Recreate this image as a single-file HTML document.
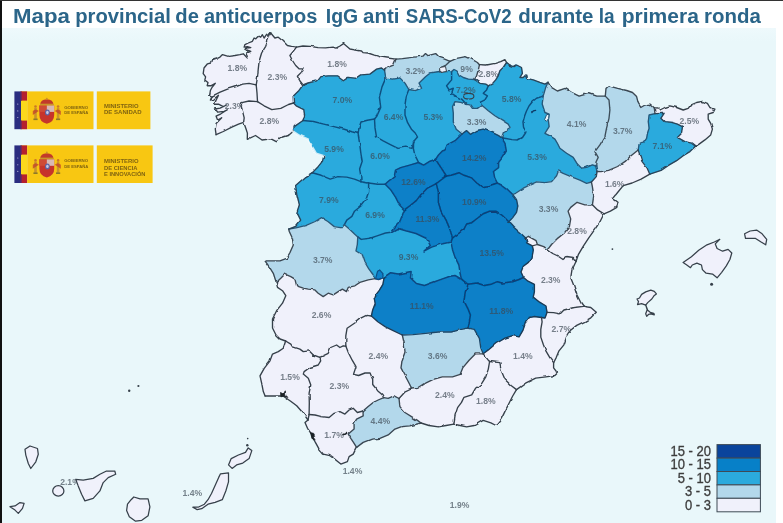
<!DOCTYPE html>
<html><head><meta charset="utf-8">
<style>
html,body{margin:0;padding:0;}
body{width:783px;height:523px;overflow:hidden;background:#fff;font-family:"Liberation Sans",sans-serif;position:relative;}
#bg{position:absolute;left:0;top:27.5px;width:775.5px;height:496px;background:linear-gradient(#eef9fc 0px,#e9f7fa 14px);}
#lbar{position:absolute;left:0;top:0;width:2px;height:523px;background:#111;}
#tbar{position:absolute;left:0;top:0;width:783px;height:1px;background:#333;}
#title{position:absolute;left:13px;top:4.1px;white-space:nowrap;font-weight:bold;font-size:20.7px;color:#2b6589;transform-origin:0 0;transform:scaleX(0.98);}
svg{position:absolute;left:0;top:0;filter:blur(0.45px);}
svg text{font-family:"Liberation Sans",sans-serif;font-size:8.6px;fill:#3c4854;fill-opacity:0.68;text-anchor:middle;font-weight:bold;}
svg text.tt{font-size:20.7px;fill:#2b6589;fill-opacity:1;text-anchor:start;font-weight:bold;}
svg text.lt{font-size:4.2px;fill:#6b5210;fill-opacity:0.85;text-anchor:start;font-weight:bold;}
svg text.lt2{font-size:5.6px;fill:#6b5210;fill-opacity:0.85;text-anchor:start;font-weight:bold;}
.lg{position:absolute;right:72px;font-size:13px;line-height:13px;color:#3d3d3d;-webkit-text-stroke:0.3px #3d3d3d;white-space:nowrap;transform:scaleY(1.13);transform-origin:100% 0;filter:blur(0.4px);}
</style></head><body>
<div id="bg"></div>
<svg width="783" height="523" viewBox="0 0 783 523">
<defs><filter id="wob" x="0" y="0" width="783" height="523" filterUnits="userSpaceOnUse"><feTurbulence type="fractalNoise" baseFrequency="0.11" numOctaves="2" seed="7" result="n"/><feDisplacementMap in="SourceGraphic" in2="n" scale="2.6" xChannelSelector="R" yChannelSelector="G"/></filter></defs>
<g filter="url(#wob)">
<polygon points="270.7,33.0 268.2,35.5 266.6,34.3 264.1,38.0 262.4,34.7 260.7,37.2 258.2,36.3 255.8,38.8 254.1,38.0 252.4,41.3 248.3,43.0 244.9,44.6 244.1,47.1 247.4,46.6 250.8,47.6 247.0,48.2 244.9,49.3 248.3,50.5 250.8,51.3 246.6,53.0 248.3,56.3 247.4,58.0 243.3,53.8 239.9,54.6 234.9,55.5 228.3,56.3 222.5,54.6 220.0,57.1 216.6,58.8 211.6,60.5 210.8,63.0 207.5,63.8 204.0,68.0 203.2,73.7 205.6,76.9 204.8,80.1 208.0,82.5 207.2,85.7 211.3,85.7 215.3,83.3 212.1,87.3 210.4,90.5 209.6,95.3 212.1,96.1 220.1,92.1 228.1,88.9 236.1,86.5 242.6,84.1 249.0,83.3 256.2,84.9 257.4,77.9 258.2,69.6 259.1,61.3 261.6,53.0 265.7,46.3 268.2,39.7 270.7,33.0" fill="#f0f1fb" stroke="#f0f1fb" stroke-width="0.6"/>
<polygon points="256.2,84.9 257.4,77.9 258.2,69.6 259.1,61.3 261.6,53.0 265.7,46.3 268.2,39.7 270.7,33.0 274.9,38.0 278.2,37.2 283.2,41.3 287.4,45.5 291.5,46.3 296.5,47.1 293.2,51.3 289.9,55.5 292.4,60.5 295.7,65.5 299.0,68.8 303.2,68.8 301.5,72.1 297.4,76.3 300.0,81.0 303.0,85.0 299.0,90.4 293.2,96.2 293.5,103.0 288.5,104.5 280.8,108.3 271.8,109.6 264.1,105.8 257.5,101.6 257.0,93.0 256.2,84.9" fill="#f0f1fb" stroke="#f0f1fb" stroke-width="0.6"/>
<polygon points="212.1,96.1 220.1,92.1 228.1,88.9 236.1,86.5 242.6,84.1 249.0,83.3 256.2,84.9 257.0,93.0 257.5,101.6 249.0,101.0 241.8,102.6 241.0,105.8 242.6,111.4 244.2,117.8 243.6,122.3 238.5,124.2 231.3,127.4 223.3,131.5 216.1,134.7 215.3,129.0 216.1,123.4 221.7,117.8 217.7,120.2 216.1,116.2 220.9,113.8 227.3,109.8 224.1,111.4 217.7,112.2 215.3,109.0 220.1,108.2 226.5,105.0 223.3,106.6 218.5,104.2 214.5,104.2 216.1,100.1 218.5,95.3 213.7,99.3 210.4,100.1 212.1,96.1" fill="#f0f1fb" stroke="#f0f1fb" stroke-width="0.6"/>
<polygon points="293.5,103.0 288.5,104.5 280.8,108.3 271.8,109.6 264.1,105.8 257.5,101.6 249.0,101.0 241.8,102.6 241.0,105.8 242.6,111.4 244.2,117.8 243.6,122.3 245.8,128.2 247.4,133.1 247.3,139.3 255.5,135.5 262.0,140.0 271.0,138.8 276.3,141.7 282.5,137.0 289.0,135.0 293.0,131.5 294.3,126.6 303.0,120.5 304.6,115.1 303.8,109.6 296.2,105.8 293.5,103.0" fill="#f0f1fb" stroke="#f0f1fb" stroke-width="0.6"/>
<polygon points="296.5,47.1 293.2,51.3 289.9,55.5 292.4,60.5 295.7,65.5 299.0,68.8 303.2,68.8 301.5,72.1 297.4,76.3 300.0,81.0 303.0,85.0 308.0,83.0 316.6,80.8 320.0,76.6 328.3,75.8 336.6,75.8 343.3,80.8 348.3,77.4 356.6,78.3 361.6,74.9 369.9,74.1 376.6,69.1 381.5,68.0 384.5,70.3 387.1,67.7 393.5,65.1 396.0,59.2 387.1,58.0 381.0,57.2 374.3,55.2 368.0,53.0 363.0,52.6 361.5,51.0 356.0,50.2 349.9,49.0 347.0,46.5 343.5,43.6 340.0,46.0 336.0,48.2 332.0,47.2 325.6,47.8 318.0,47.6 310.2,46.4 303.0,46.0 296.5,47.1" fill="#f0f1fb" stroke="#f0f1fb" stroke-width="0.6"/>
<polygon points="396.0,59.2 393.5,65.1 387.1,67.7 384.5,70.3 385.8,77.9 392.2,79.2 399.9,77.9 405.0,83.1 408.8,89.5 415.2,90.7 421.6,88.2 419.1,83.1 425.5,76.7 430.6,72.8 439.6,71.5 440.8,67.7 446.0,65.1 450.0,61.3 443.4,58.7 439.6,57.4 435.7,53.6 428.0,55.7 425.5,53.6 422.9,56.2 412.7,57.4 402.4,58.7 396.0,59.2" fill="#b3d8eb" stroke="#b3d8eb" stroke-width="0.6"/>
<polygon points="450.0,61.3 446.0,65.1 440.8,67.7 439.6,71.5 446.0,71.5 451.6,71.6 454.0,69.5 457.0,71.0 459.1,75.0 463.3,77.5 468.3,79.1 474.5,79.5 476.6,75.8 478.3,70.0 479.5,64.7 477.4,62.5 471.6,59.1 465.8,56.6 456.6,58.3 450.0,61.3" fill="#b3d8eb" stroke="#b3d8eb" stroke-width="0.6"/>
<polygon points="479.5,64.7 478.3,70.0 476.6,75.8 474.5,79.5 479.9,83.3 485.8,84.1 488.3,85.8 492.4,83.6 495.7,79.9 498.2,75.8 499.9,70.8 503.2,67.5 506.6,62.5 504.9,59.6 500.7,61.6 494.9,63.3 486.6,65.0 479.5,64.7" fill="#f0f1fb" stroke="#f0f1fb" stroke-width="0.6"/>
<polygon points="474.5,79.5 468.3,79.1 463.3,77.5 459.1,75.0 457.0,71.0 454.0,69.5 451.6,71.6 451.6,79.9 446.6,85.8 449.1,89.9 453.3,88.3 451.6,93.3 456.6,96.6 461.6,99.1 466.5,104.3 469.9,104.9 472.4,108.4 477.4,108.4 481.6,105.2 479.9,102.4 484.9,99.9 487.4,95.8 483.3,93.3 486.6,89.9 488.3,85.8 485.8,84.1 479.9,83.3 474.5,79.5" fill="#2baadd" stroke="#2baadd" stroke-width="0.6"/>
<polygon points="481.6,105.2 479.9,102.4 484.9,99.9 487.4,95.8 483.3,93.3 486.6,89.9 488.3,85.8 492.4,83.6 495.7,79.9 498.2,75.8 499.9,70.8 503.2,67.5 506.6,62.5 509.9,65.0 514.1,66.6 516.6,65.0 521.5,67.5 522.4,73.3 519.9,77.5 523.2,77.5 525.7,75.0 526.5,78.3 533.2,79.9 539.9,82.4 544.9,84.1 548.0,82.3 545.7,87.4 544.0,93.3 543.2,95.8 541.5,96.6 536.5,98.3 532.5,101.5 529.0,106.0 526.5,111.0 524.6,116.0 523.0,122.0 523.5,127.0 525.8,132.5 522.5,137.5 518.0,140.0 512.0,139.6 506.0,138.5 501.5,137.7 503.7,131.8 510.1,127.5 508.2,124.1 501.6,119.9 494.9,115.7 488.3,110.7 483.3,106.6 481.6,105.2" fill="#2baadd" stroke="#2baadd" stroke-width="0.6"/>
<polygon points="466.5,104.3 469.9,104.9 472.4,108.4 477.4,108.4 481.6,105.2 483.3,106.6 488.3,110.7 494.9,115.7 501.6,119.9 508.2,124.1 510.1,127.5 503.7,131.8 501.5,137.7 498.6,135.6 490.9,131.8 483.2,129.2 476.8,130.5 470.4,134.3 466.5,130.6 462.0,134.0 456.2,129.2 453.3,122.0 453.3,113.2 452.5,106.6 455.0,101.6 460.8,102.4 466.5,104.3" fill="#b3d8eb" stroke="#b3d8eb" stroke-width="0.6"/>
<polygon points="548.0,82.3 545.7,87.4 544.0,93.3 543.2,95.8 542.2,104.0 544.9,112.5 549.1,114.1 548.3,120.0 549.1,126.6 544.9,133.3 549.9,135.8 554.9,139.1 557.5,143.5 559.9,148.3 566.6,153.3 573.2,157.4 577.4,164.1 581.6,168.2 586.6,167.4 592.4,164.9 595.7,166.0 596.0,162.0 598.2,157.4 594.9,151.6 599.9,144.9 604.9,136.6 606.5,128.3 609.0,118.3 609.9,110.0 609.0,100.0 605.3,96.1 595.8,96.1 588.1,93.5 579.1,96.1 571.5,92.3 565.1,88.4 557.4,91.0 551.0,87.1 548.0,82.3" fill="#b3d8eb" stroke="#b3d8eb" stroke-width="0.6"/>
<polygon points="597.0,171.5 600.9,171.6 608.6,170.4 617.6,166.5 625.2,161.4 630.4,156.3 638.2,150.0 639.1,144.1 643.3,143.2 646.6,138.3 647.5,133.3 649.1,128.3 648.3,121.6 649.1,115.0 655.0,113.6 654.3,107.8 650.0,104.1 645.0,105.0 640.8,107.5 638.3,103.3 636.6,96.6 632.5,92.5 626.7,90.5 617.6,88.4 608.6,85.9 606.0,88.4 605.3,96.1 609.0,100.0 609.9,110.0 609.0,118.3 606.5,128.3 604.9,136.6 599.9,144.9 594.9,151.6 598.2,157.4 596.0,162.0 595.7,166.0 597.0,171.5" fill="#b3d8eb" stroke="#b3d8eb" stroke-width="0.6"/>
<polygon points="655.0,113.6 664.1,113.3 660.8,118.3 664.1,121.6 671.6,122.4 677.4,124.1 682.4,126.6 681.6,133.3 677.4,137.4 684.9,141.6 691.6,143.2 695.5,146.3 699.1,144.1 704.9,139.9 710.7,134.9 712.4,129.1 710.7,123.3 708.2,119.1 708.2,114.1 713.2,112.5 714.9,109.1 709.9,107.5 707.4,103.3 702.4,101.3 696.6,102.5 690.7,105.0 688.2,108.3 683.2,110.0 676.6,107.5 669.9,105.8 664.9,107.5 660.0,110.0 658.0,108.0 654.3,107.8 655.0,113.6" fill="#f0f1fb" stroke="#f0f1fb" stroke-width="0.6"/>
<polygon points="638.2,150.0 641.9,161.4 647.0,167.8 649.8,174.2 661.1,170.4 668.8,165.2 676.6,160.7 683.2,155.7 689.9,151.6 695.5,146.3 691.6,143.2 684.9,141.6 677.4,137.4 681.6,133.3 682.4,126.6 677.4,124.1 671.6,122.4 664.1,121.6 660.8,118.3 664.1,113.3 655.0,113.6 649.1,115.0 648.3,121.6 649.1,128.3 647.5,133.3 646.6,138.3 643.3,143.2 639.1,144.1 638.2,150.0" fill="#2baadd" stroke="#2baadd" stroke-width="0.6"/>
<polygon points="592.4,204.8 597.6,209.9 604.0,213.8 610.4,211.2 616.8,207.4 618.0,202.3 612.9,198.4 618.0,192.0 623.2,185.6 632.1,183.0 641.1,179.2 649.8,174.2 647.0,167.8 641.9,161.4 638.2,150.0 630.4,156.3 625.2,161.4 617.6,166.5 608.6,170.4 600.9,171.6 597.0,171.5 596.3,176.6 591.4,182.0 592.4,186.9 593.7,195.8 592.4,204.8" fill="#f0f1fb" stroke="#f0f1fb" stroke-width="0.6"/>
<polygon points="543.2,95.8 541.5,96.6 536.5,98.3 532.5,101.5 529.0,106.0 526.5,111.0 524.6,116.0 523.0,122.0 523.5,127.0 525.8,132.5 522.5,137.5 518.0,140.0 512.0,139.6 506.0,138.5 501.5,137.7 505.0,143.3 506.3,151.0 502.4,157.4 498.6,162.5 498.6,167.6 493.5,171.5 494.7,177.9 497.3,183.0 502.4,185.5 507.6,189.4 512.7,194.5 515.6,193.3 523.3,188.2 529.9,184.9 536.6,181.8 544.9,182.6 551.6,181.6 556.6,175.7 558.4,170.9 563.2,173.4 571.6,176.8 579.9,180.2 586.6,183.4 591.4,182.0 596.3,176.6 597.0,171.5 595.7,166.0 592.4,164.9 586.6,167.4 581.6,168.2 577.4,164.1 573.2,157.4 566.6,153.3 559.9,148.3 557.5,143.5 554.9,139.1 549.9,135.8 544.9,133.3 549.1,126.6 548.3,120.0 549.1,114.1 544.9,112.5 542.2,104.0 543.2,95.8" fill="#2baadd" stroke="#2baadd" stroke-width="0.6"/>
<polygon points="512.7,194.5 516.5,199.6 517.8,206.0 516.5,212.4 512.7,217.6 508.8,221.8 514.0,227.5 520.4,233.0 525.7,238.0 528.4,236.3 536.1,240.7 537.4,244.5 543.8,246.6 547.6,249.6 551.5,244.5 557.9,238.1 564.3,233.0 569.4,226.6 570.7,218.9 568.1,211.2 570.7,207.4 577.1,202.3 584.8,204.8 592.4,204.8 593.7,195.8 592.4,186.9 591.4,182.0 586.6,183.4 579.9,180.2 571.6,176.8 563.2,173.4 558.4,170.9 556.6,175.7 551.6,181.6 544.9,182.6 536.6,181.8 529.9,184.9 523.3,188.2 515.6,193.3 512.7,194.5" fill="#b3d8eb" stroke="#b3d8eb" stroke-width="0.6"/>
<polygon points="547.6,249.6 552.7,253.5 557.9,256.0 563.0,259.5 566.8,256.5 573.2,257.3 576.0,261.5 578.3,254.7 583.5,245.8 588.6,238.1 595.0,229.1 600.1,221.5 604.0,213.8 597.6,209.9 592.4,204.8 584.8,204.8 577.1,202.3 570.7,207.4 568.1,211.2 570.7,218.9 569.4,226.6 564.3,233.0 557.9,238.1 551.5,244.5 547.6,249.6" fill="#f0f1fb" stroke="#f0f1fb" stroke-width="0.6"/>
<polygon points="523.5,277.5 528.0,281.2 534.4,284.3 534.4,291.9 533.2,297.1 539.6,302.2 546.0,306.0 547.0,312.4 553.6,312.6 560.0,313.9 563.9,310.0 574.1,307.5 583.5,306.3 581.0,303.0 576.7,294.5 573.6,285.0 570.7,277.8 571.9,270.1 576.0,261.5 573.2,257.3 566.8,256.5 563.0,259.5 557.9,256.0 552.7,253.5 547.6,249.6 543.8,246.6 537.4,244.5 536.1,240.7 528.4,236.3 525.7,238.0 527.1,243.2 532.3,245.8 533.3,250.0 532.0,257.3 528.4,262.4 523.3,266.3 521.0,272.0 523.5,277.5" fill="#f0f1fb" stroke="#f0f1fb" stroke-width="0.6"/>
<polygon points="547.0,312.4 545.0,318.0 541.5,317.5 542.1,321.8 540.8,329.4 540.8,337.1 543.4,344.8 546.0,351.2 549.8,357.6 553.6,362.7 556.2,357.6 558.8,351.2 563.9,344.8 566.5,337.0 570.3,330.5 576.7,325.4 584.4,321.6 590.8,317.8 596.3,312.3 590.8,307.5 583.5,306.3 574.1,307.5 563.9,310.0 560.0,313.9 553.6,312.6 547.0,312.4" fill="#f0f1fb" stroke="#f0f1fb" stroke-width="0.6"/>
<polygon points="541.5,317.5 534.4,316.5 529.3,317.6 525.5,322.7 522.9,330.4 519.1,336.8 512.7,335.7 505.0,338.2 496.0,343.5 488.3,349.9 483.2,353.8 488.3,360.2 489.6,361.5 499.9,362.7 501.2,370.4 505.0,379.4 511.4,385.8 516.5,389.6 525.5,383.2 535.7,378.1 546.0,376.8 554.9,375.5 557.5,373.0 553.6,367.9 553.6,362.7 549.8,357.6 546.0,351.2 543.4,344.8 540.8,337.1 540.8,329.4 542.1,321.8 541.5,317.5" fill="#f0f1fb" stroke="#f0f1fb" stroke-width="0.6"/>
<polygon points="303.0,85.0 299.0,90.4 293.2,96.2 293.5,103.0 296.2,105.8 303.8,109.6 304.6,115.1 303.0,120.5 313.5,121.5 323.8,124.1 334.0,126.6 344.3,129.2 351.9,131.8 358.0,133.5 359.0,128.0 361.0,122.0 367.3,120.2 374.5,119.0 376.8,116.3 380.7,107.4 379.4,97.1 382.0,86.9 385.8,77.9 384.5,70.3 381.5,68.0 376.6,69.1 369.9,74.1 361.6,74.9 356.6,78.3 348.3,77.4 343.3,80.8 336.6,75.8 328.3,75.8 320.0,76.6 316.6,80.8 308.0,83.0 303.0,85.0" fill="#2baadd" stroke="#2baadd" stroke-width="0.6"/>
<polygon points="385.8,77.9 382.0,86.9 379.4,97.1 380.7,107.4 376.8,116.3 374.5,119.0 375.0,127.9 376.5,137.0 382.7,140.7 390.4,144.6 398.0,148.4 405.7,147.1 412.0,148.4 413.6,141.5 417.5,137.0 415.2,133.0 411.4,129.2 407.6,122.7 405.0,115.1 405.0,104.8 406.3,95.9 408.8,89.5 405.0,83.1 399.9,77.9 392.2,79.2 385.8,77.9" fill="#2baadd" stroke="#2baadd" stroke-width="0.6"/>
<polygon points="408.8,89.5 406.3,95.9 405.0,104.8 405.0,115.1 407.6,122.7 411.4,129.2 415.2,133.0 417.5,137.0 413.6,141.5 413.4,148.4 414.7,154.8 417.3,159.9 418.5,162.5 423.6,165.1 430.0,161.2 435.5,159.3 438.5,155.0 442.3,151.0 445.0,150.0 447.4,144.6 455.1,140.7 462.0,134.0 456.2,129.2 453.3,122.0 453.3,113.2 452.5,106.6 455.0,101.6 460.8,102.4 466.5,104.3 461.6,99.1 456.6,96.6 451.6,93.3 453.3,88.3 449.1,89.9 446.6,85.8 451.6,79.9 451.6,71.6 446.0,71.5 439.6,71.5 430.6,72.8 425.5,76.7 419.1,83.1 421.6,88.2 415.2,90.7 408.8,89.5" fill="#2baadd" stroke="#2baadd" stroke-width="0.6"/>
<polygon points="303.0,120.5 294.3,126.6 293.0,131.5 299.4,135.6 308.4,139.4 312.3,147.1 316.1,153.5 323.8,156.1 322.5,161.2 317.4,167.6 312.3,172.7 321.2,175.3 330.2,179.1 337.9,176.6 346.8,177.1 354.5,179.1 360.9,181.7 360.9,176.6 359.6,168.9 362.2,161.2 360.9,153.5 359.6,143.3 358.0,133.5 351.9,131.8 344.3,129.2 334.0,126.6 323.8,124.1 313.5,121.5 303.0,120.5" fill="#2baadd" stroke="#2baadd" stroke-width="0.6"/>
<polygon points="374.5,119.0 367.3,120.2 361.0,122.0 359.0,128.0 358.0,133.5 359.6,143.3 360.9,153.5 362.2,161.2 359.6,168.9 360.9,176.6 360.9,181.7 368.6,183.0 377.6,184.3 385.2,184.3 387.8,181.7 394.2,176.6 395.5,170.2 400.6,167.6 409.6,165.1 418.5,162.5 417.3,159.9 414.7,154.8 413.4,148.4 413.6,141.5 412.0,148.4 405.7,147.1 398.0,148.4 390.4,144.6 382.7,140.7 376.5,137.0 375.0,127.9 374.5,119.0" fill="#2baadd" stroke="#2baadd" stroke-width="0.6"/>
<polygon points="462.0,134.0 466.5,130.6 470.4,134.3 476.8,130.5 483.2,129.2 490.9,131.8 498.6,135.6 501.5,137.7 505.0,143.3 506.3,151.0 502.4,157.4 498.6,162.5 498.6,167.6 493.5,171.5 494.7,177.9 497.3,183.0 489.6,185.5 481.9,186.8 476.8,183.0 471.7,177.9 464.0,175.3 458.9,172.7 451.2,175.3 446.4,176.0 441.0,167.6 435.5,159.3 438.5,155.0 442.3,151.0 445.0,150.0 447.4,144.6 455.1,140.7 462.0,134.0" fill="#0780c8" stroke="#0780c8" stroke-width="0.6"/>
<polygon points="418.5,162.5 423.6,165.1 430.0,161.2 435.5,159.3 441.0,167.6 446.4,176.0 441.0,180.0 436.2,183.6 427.5,188.1 421.1,194.5 416.0,200.9 409.6,206.0 404.4,209.9 399.3,204.8 395.5,197.1 390.4,189.4 385.2,184.3 387.8,181.7 394.2,176.6 395.5,170.2 400.6,167.6 409.6,165.1 418.5,162.5" fill="#0780c8" stroke="#0780c8" stroke-width="0.6"/>
<polygon points="312.3,172.7 321.2,175.3 330.2,179.1 337.9,176.6 346.8,177.1 354.5,179.1 360.9,181.7 368.6,183.0 368.6,192.0 366.0,199.6 360.9,206.0 354.5,211.2 351.9,216.3 346.8,220.1 344.4,224.7 341.9,227.9 334.3,226.6 327.9,221.5 321.5,217.7 315.1,221.5 306.1,225.4 295.9,227.9 288.7,229.1 295.6,226.5 300.7,220.1 296.9,212.4 299.4,204.8 296.9,194.5 295.6,185.5 305.9,176.6 312.3,172.7" fill="#2baadd" stroke="#2baadd" stroke-width="0.6"/>
<polygon points="368.6,183.0 377.6,184.3 385.2,184.3 390.4,189.4 395.5,197.1 399.3,204.8 404.4,209.9 401.9,216.3 399.3,222.7 394.2,227.8 391.0,232.3 385.5,233.0 377.8,235.6 370.1,238.2 361.2,239.4 357.8,236.9 354.8,234.3 349.6,229.2 344.4,224.7 346.8,220.1 351.9,216.3 354.5,211.2 360.9,206.0 366.0,199.6 368.6,192.0 368.6,183.0" fill="#2baadd" stroke="#2baadd" stroke-width="0.6"/>
<polygon points="391.0,232.3 394.2,227.8 399.3,222.7 401.9,216.3 404.4,209.9 409.6,206.0 416.0,200.9 421.1,194.5 427.5,188.1 436.2,183.6 438.4,191.9 438.4,202.2 441.0,211.2 446.1,220.1 449.9,229.1 452.5,238.0 451.0,242.0 446.0,243.0 439.3,244.6 431.6,247.1 424.0,251.0 430.3,245.5 426.5,238.5 416.0,233.5 405.7,230.8 398.0,228.5 391.0,232.3" fill="#0780c8" stroke="#0780c8" stroke-width="0.6"/>
<polygon points="436.2,183.6 441.0,180.0 446.4,176.0 451.2,175.3 458.9,172.7 464.0,175.3 471.7,177.9 476.8,183.0 481.9,186.8 489.6,185.5 497.3,183.0 502.4,185.5 507.6,189.4 512.7,194.5 516.5,199.6 517.8,206.0 516.5,212.4 512.7,217.6 508.8,221.8 502.4,215.5 496.0,211.2 489.6,211.2 483.2,213.7 476.8,218.8 471.7,222.7 466.6,224.0 464.0,229.1 457.6,234.2 452.5,238.0 449.9,229.1 446.1,220.1 441.0,211.2 438.4,202.2 438.4,191.9 436.2,183.6" fill="#0780c8" stroke="#0780c8" stroke-width="0.6"/>
<polygon points="508.8,221.8 502.4,215.5 496.0,211.2 489.6,211.2 483.2,213.7 476.8,218.8 471.7,222.7 466.6,224.0 464.0,229.1 457.6,234.2 452.5,238.0 451.0,242.0 452.5,249.7 455.1,257.4 458.9,265.1 460.2,274.0 461.5,279.1 467.9,284.3 476.8,283.0 484.5,285.5 490.9,284.3 497.3,281.7 502.4,283.0 512.7,281.7 519.0,279.5 523.5,277.5 521.0,272.0 523.3,266.3 528.4,262.4 532.0,257.3 533.3,250.0 532.3,245.8 527.1,243.2 525.7,238.0 520.4,233.0 514.0,227.5 508.8,221.8" fill="#0780c8" stroke="#0780c8" stroke-width="0.6"/>
<polygon points="357.8,236.9 361.2,239.4 370.1,238.2 377.8,235.6 385.5,233.0 391.0,232.3 398.0,228.5 405.7,230.8 416.0,233.5 426.5,238.5 430.3,245.5 424.0,251.0 431.6,247.1 439.3,244.6 446.0,243.0 451.0,242.0 452.5,249.7 455.1,257.4 458.9,265.1 460.2,274.0 461.5,279.1 455.0,275.5 450.0,276.3 441.8,279.1 434.0,282.0 424.5,285.5 416.4,283.5 410.5,277.9 411.1,271.5 404.7,272.7 398.3,274.0 390.6,272.7 384.2,277.1 382.5,278.0 378.5,279.6 375.2,278.6 373.0,274.5 368.8,268.9 365.0,262.5 362.4,254.8 356.0,251.0 357.3,244.6 357.8,236.9" fill="#2baadd" stroke="#2baadd" stroke-width="0.6"/>
<polygon points="288.7,229.1 295.9,227.9 306.1,225.4 315.1,221.5 321.5,217.7 327.9,221.5 334.3,226.6 341.9,227.9 344.4,224.7 349.6,229.2 354.8,234.3 357.8,236.9 357.3,244.6 356.0,251.0 362.4,254.8 365.0,262.5 368.8,268.9 373.0,274.5 375.2,278.6 368.2,279.9 359.9,282.4 354.9,285.8 348.2,287.4 346.5,291.6 342.4,289.1 338.2,291.6 333.2,294.9 328.2,293.2 323.2,296.6 318.2,293.2 314.9,289.9 308.3,289.1 303.3,288.2 296.6,285.8 294.9,279.1 290.8,276.6 285.0,274.1 280.8,278.3 276.3,282.6 273.3,273.3 269.1,266.6 265.0,260.8 271.6,260.8 280.0,260.8 286.6,258.3 290.0,252.5 293.3,245.0 292.4,238.3 289.3,231.5 288.7,229.1" fill="#b3d8eb" stroke="#b3d8eb" stroke-width="0.6"/>
<polygon points="375.2,278.6 378.5,279.6 382.5,278.0 384.2,277.1 382.9,284.3 379.1,290.7 374.0,297.1 375.2,303.5 372.7,309.9 371.4,316.0 366.3,315.4 361.2,317.9 354.8,323.0 347.1,328.2 345.8,335.9 345.8,346.1 343.2,345.8 339.9,347.5 336.6,345.0 330.7,347.5 328.2,353.3 319.9,357.3 313.3,355.0 309.1,350.8 303.3,351.6 299.9,349.1 292.4,346.6 290.8,344.1 285.6,341.0 280.0,339.0 276.0,335.0 272.5,328.0 272.5,319.0 276.6,310.7 282.5,303.2 285.8,295.7 282.5,290.7 277.5,287.4 276.3,282.6 280.8,278.3 285.0,274.1 290.8,276.6 294.9,279.1 296.6,285.8 303.3,288.2 308.3,289.1 314.9,289.9 318.2,293.2 323.2,296.6 328.2,293.2 333.2,294.9 338.2,291.6 342.4,289.1 346.5,291.6 348.2,287.4 354.9,285.8 359.9,282.4 368.2,279.9 375.2,278.6" fill="#f0f1fb" stroke="#f0f1fb" stroke-width="0.6"/>
<polygon points="384.2,277.1 390.6,272.7 398.3,274.0 404.7,272.7 411.1,271.5 410.5,277.9 416.4,283.5 424.5,285.5 434.0,282.0 441.8,279.1 450.0,276.3 455.0,275.5 461.5,279.1 467.9,284.3 465.3,291.9 464.0,300.9 467.9,308.6 470.4,315.0 469.1,322.7 467.9,328.0 461.5,329.4 451.2,332.0 438.4,332.0 425.6,333.3 412.8,334.6 402.3,335.0 393.2,330.7 385.5,326.9 377.8,321.8 371.4,316.0 372.7,309.9 375.2,303.5 374.0,297.1 379.1,290.7 382.9,284.3 384.2,277.1" fill="#0780c8" stroke="#0780c8" stroke-width="0.6"/>
<polygon points="467.9,284.3 465.3,291.9 464.0,300.9 467.9,308.6 470.4,315.0 469.1,322.7 467.9,328.0 474.3,329.4 479.4,338.4 480.7,347.4 483.2,353.8 488.3,349.9 496.0,343.5 505.0,338.2 512.7,335.7 519.1,336.8 522.9,330.4 525.5,322.7 529.3,317.6 534.4,316.5 541.5,317.5 545.0,318.0 547.0,312.4 546.0,306.0 539.6,302.2 533.2,297.1 534.4,291.9 534.4,284.3 528.0,281.2 523.5,277.5 519.0,279.5 512.7,281.7 502.4,283.0 497.3,281.7 490.9,284.3 484.5,285.5 476.8,283.0 467.9,284.3" fill="#0780c8" stroke="#0780c8" stroke-width="0.6"/>
<polygon points="371.4,316.0 366.3,315.4 361.2,317.9 354.8,323.0 347.1,328.2 345.8,335.9 345.8,346.1 348.3,352.5 352.2,360.2 356.0,366.6 353.5,374.3 358.6,375.5 365.0,373.0 370.1,373.0 372.7,379.4 372.7,384.5 377.8,390.9 382.0,394.5 383.7,397.7 388.2,398.3 394.0,395.8 399.0,398.5 404.7,392.2 411.3,389.0 410.0,385.0 407.4,380.0 404.3,374.3 401.0,367.9 402.1,360.2 405.0,352.0 404.2,343.5 402.3,335.0 393.2,330.7 385.5,326.9 377.8,321.8 371.4,316.0" fill="#f0f1fb" stroke="#f0f1fb" stroke-width="0.6"/>
<polygon points="402.3,335.0 404.2,343.5 405.0,352.0 402.1,360.2 401.0,367.9 404.3,374.3 407.4,380.0 410.0,385.0 411.3,389.0 417.9,388.3 425.6,383.2 433.3,379.4 442.3,376.8 452.5,376.8 460.2,374.3 462.7,367.9 469.1,360.2 475.5,353.8 483.2,353.8 480.7,347.4 479.4,338.4 474.3,329.4 467.9,328.0 461.5,329.4 451.2,332.0 438.4,332.0 425.6,333.3 412.8,334.6 402.3,335.0" fill="#b3d8eb" stroke="#b3d8eb" stroke-width="0.6"/>
<polygon points="285.6,341.0 290.8,344.1 292.4,346.6 299.9,349.1 303.3,351.6 309.1,350.8 313.3,355.0 319.9,357.3 320.7,360.8 318.2,365.0 309.9,367.5 304.1,371.6 303.3,374.1 308.3,378.3 310.8,384.9 309.1,393.2 309.3,403.2 309.1,414.5 308.0,420.0 303.3,413.3 296.7,405.8 290.7,401.2 283.0,396.0 275.4,396.0 265.1,396.0 263.3,391.6 261.7,383.3 260.0,375.8 264.2,368.3 270.0,360.8 272.5,354.1 278.3,351.6 283.3,348.3 285.6,341.0" fill="#f0f1fb" stroke="#f0f1fb" stroke-width="0.6"/>
<polygon points="319.9,357.3 328.2,353.3 330.7,347.5 336.6,345.0 339.9,347.5 343.2,345.8 345.8,346.1 348.3,352.5 352.2,360.2 356.0,366.6 353.5,374.3 358.6,375.5 365.0,373.0 370.1,373.0 372.7,379.4 372.7,384.5 377.8,390.9 382.0,394.5 383.7,397.7 378.2,400.0 373.2,402.5 368.2,406.6 363.0,411.0 357.4,412.5 353.2,408.3 349.1,410.0 344.9,414.1 339.9,411.6 334.1,413.3 329.1,417.5 321.6,416.6 315.0,415.0 309.1,414.5 309.3,403.2 309.1,393.2 310.8,384.9 308.3,378.3 303.3,374.1 304.1,371.6 309.9,367.5 318.2,365.0 320.7,360.8 319.9,357.3" fill="#f0f1fb" stroke="#f0f1fb" stroke-width="0.6"/>
<polygon points="309.1,414.5 308.0,420.0 305.0,422.5 307.5,428.3 311.6,434.1 315.0,441.6 319.1,449.1 323.3,454.1 329.9,455.7 335.8,459.9 340.8,464.1 347.4,461.6 349.1,456.6 353.2,454.1 356.6,447.4 354.1,443.3 350.8,438.3 348.3,434.1 354.1,429.1 354.1,423.3 356.6,419.1 363.2,415.8 363.0,411.0 357.4,412.5 353.2,408.3 349.1,410.0 344.9,414.1 339.9,411.6 334.1,413.3 329.1,417.5 321.6,416.6 315.0,415.0 309.1,414.5" fill="#f0f1fb" stroke="#f0f1fb" stroke-width="0.6"/>
<polygon points="383.7,397.7 378.2,400.0 373.2,402.5 368.2,406.6 363.0,411.0 363.2,415.8 356.6,419.1 354.1,423.3 354.1,429.1 348.3,434.1 350.8,438.3 354.1,443.3 356.6,447.4 363.2,442.4 371.6,439.1 379.9,438.3 388.2,434.9 394.9,429.1 401.5,426.6 409.8,425.8 421.0,423.0 417.5,420.4 411.5,416.6 404.9,412.5 399.9,406.6 399.0,398.5 394.0,395.8 388.2,398.3 383.7,397.7" fill="#b3d8eb" stroke="#b3d8eb" stroke-width="0.6"/>
<polygon points="399.0,398.5 399.9,406.6 404.9,412.5 411.5,416.6 417.5,420.4 421.0,423.0 429.0,425.5 438.4,426.8 446.1,425.5 453.8,424.2 455.1,415.2 457.6,407.6 461.5,402.4 464.0,397.3 471.7,394.8 475.5,388.3 481.9,383.2 485.8,376.8 488.3,369.1 489.6,361.5 488.3,360.2 483.2,353.8 475.5,353.8 469.1,360.2 462.7,367.9 460.2,374.3 452.5,376.8 442.3,376.8 433.3,379.4 425.6,383.2 417.9,388.3 411.3,389.0 404.7,392.2 399.0,398.5" fill="#f0f1fb" stroke="#f0f1fb" stroke-width="0.6"/>
<polygon points="489.6,361.5 488.3,369.1 485.8,376.8 481.9,383.2 475.5,388.3 471.7,394.8 464.0,397.3 461.5,402.4 457.6,407.6 455.1,415.2 453.8,424.2 460.2,425.5 466.6,426.8 474.3,425.5 483.2,420.4 490.9,422.9 496.0,425.5 501.2,419.1 505.0,411.4 508.8,403.7 512.7,396.0 516.5,389.6 511.4,385.8 505.0,379.4 501.2,370.4 499.9,362.7 489.6,361.5" fill="#f0f1fb" stroke="#f0f1fb" stroke-width="0.6"/>
<polyline points="404.4,209.9 409.6,206.0 416.0,200.9 421.1,194.5 427.5,188.1 436.2,183.6" fill="none" stroke="#083f78" stroke-width="1.45" stroke-linejoin="round" stroke-linecap="round"/>
<polyline points="436.2,183.6 441.0,180.0 446.4,176.0" fill="none" stroke="#083f78" stroke-width="1.45" stroke-linejoin="round" stroke-linecap="round"/>
<polyline points="446.4,176.0 441.0,167.6 435.5,159.3" fill="none" stroke="#083f78" stroke-width="1.45" stroke-linejoin="round" stroke-linecap="round"/>
<polyline points="446.4,176.0 451.2,175.3 458.9,172.7 464.0,175.3 471.7,177.9 476.8,183.0 481.9,186.8 489.6,185.5 497.3,183.0" fill="none" stroke="#083f78" stroke-width="1.45" stroke-linejoin="round" stroke-linecap="round"/>
<polyline points="508.8,221.8 502.4,215.5 496.0,211.2 489.6,211.2 483.2,213.7 476.8,218.8 471.7,222.7 466.6,224.0 464.0,229.1 457.6,234.2 452.5,238.0" fill="none" stroke="#083f78" stroke-width="1.45" stroke-linejoin="round" stroke-linecap="round"/>
<polyline points="452.5,238.0 449.9,229.1 446.1,220.1 441.0,211.2 438.4,202.2 438.4,191.9 436.2,183.6" fill="none" stroke="#083f78" stroke-width="1.45" stroke-linejoin="round" stroke-linecap="round"/>
<polyline points="452.5,238.0 451.0,242.0" fill="none" stroke="#083f78" stroke-width="1.45" stroke-linejoin="round" stroke-linecap="round"/>
<polyline points="461.5,279.1 467.9,284.3" fill="none" stroke="#083f78" stroke-width="1.45" stroke-linejoin="round" stroke-linecap="round"/>
<polyline points="467.9,284.3 465.3,291.9 464.0,300.9 467.9,308.6 470.4,315.0 469.1,322.7 467.9,328.0" fill="none" stroke="#083f78" stroke-width="1.45" stroke-linejoin="round" stroke-linecap="round"/>
<polyline points="467.9,284.3 476.8,283.0 484.5,285.5 490.9,284.3 497.3,281.7 502.4,283.0 512.7,281.7 519.0,279.5 523.5,277.5" fill="none" stroke="#083f78" stroke-width="1.45" stroke-linejoin="round" stroke-linecap="round"/>
<polyline points="385.8,77.9 382.0,86.9 379.4,97.1 380.7,107.4 376.8,116.3 374.5,119.0" fill="none" stroke="#0e4f80" stroke-width="1.45" stroke-linejoin="round" stroke-linecap="round"/>
<polyline points="374.5,119.0 367.3,120.2 361.0,122.0 359.0,128.0 358.0,133.5" fill="none" stroke="#0e4f80" stroke-width="1.45" stroke-linejoin="round" stroke-linecap="round"/>
<polyline points="303.0,120.5 313.5,121.5 323.8,124.1 334.0,126.6 344.3,129.2 351.9,131.8 358.0,133.5" fill="none" stroke="#0e4f80" stroke-width="1.45" stroke-linejoin="round" stroke-linecap="round"/>
<polyline points="408.8,89.5 406.3,95.9 405.0,104.8 405.0,115.1 407.6,122.7 411.4,129.2 415.2,133.0 417.5,137.0 413.6,141.5" fill="none" stroke="#0e4f80" stroke-width="1.45" stroke-linejoin="round" stroke-linecap="round"/>
<polyline points="374.5,119.0 375.0,127.9 376.5,137.0 382.7,140.7 390.4,144.6 398.0,148.4 405.7,147.1 412.0,148.4 413.6,141.5" fill="none" stroke="#0e4f80" stroke-width="1.45" stroke-linejoin="round" stroke-linecap="round"/>
<polyline points="451.6,71.6 451.6,79.9 446.6,85.8 449.1,89.9 453.3,88.3 451.6,93.3 456.6,96.6 461.6,99.1 466.5,104.3" fill="none" stroke="#0e4f80" stroke-width="1.45" stroke-linejoin="round" stroke-linecap="round"/>
<polyline points="481.6,105.2 479.9,102.4 484.9,99.9 487.4,95.8 483.3,93.3 486.6,89.9 488.3,85.8" fill="none" stroke="#0e4f80" stroke-width="1.45" stroke-linejoin="round" stroke-linecap="round"/>
<polyline points="543.2,95.8 541.5,96.6 536.5,98.3 532.5,101.5 529.0,106.0 526.5,111.0 524.6,116.0 523.0,122.0 523.5,127.0 525.8,132.5 522.5,137.5 518.0,140.0 512.0,139.6 506.0,138.5 501.5,137.7" fill="none" stroke="#0e4f80" stroke-width="1.45" stroke-linejoin="round" stroke-linecap="round"/>
<polyline points="462.0,134.0 455.1,140.7 447.4,144.6 445.0,150.0 442.3,151.0 438.5,155.0 435.5,159.3" fill="none" stroke="#0a4680" stroke-width="1.45" stroke-linejoin="round" stroke-linecap="round"/>
<polyline points="418.5,162.5 423.6,165.1 430.0,161.2 435.5,159.3" fill="none" stroke="#0a4680" stroke-width="1.45" stroke-linejoin="round" stroke-linecap="round"/>
<polyline points="413.6,141.5 413.4,148.4 414.7,154.8 417.3,159.9 418.5,162.5" fill="none" stroke="#0e4f80" stroke-width="1.45" stroke-linejoin="round" stroke-linecap="round"/>
<polyline points="358.0,133.5 359.6,143.3 360.9,153.5 362.2,161.2 359.6,168.9 360.9,176.6 360.9,181.7" fill="none" stroke="#0e4f80" stroke-width="1.45" stroke-linejoin="round" stroke-linecap="round"/>
<polyline points="312.3,172.7 321.2,175.3 330.2,179.1 337.9,176.6 346.8,177.1 354.5,179.1 360.9,181.7" fill="none" stroke="#0e4f80" stroke-width="1.45" stroke-linejoin="round" stroke-linecap="round"/>
<polyline points="360.9,181.7 368.6,183.0" fill="none" stroke="#0e4f80" stroke-width="1.45" stroke-linejoin="round" stroke-linecap="round"/>
<polyline points="368.6,183.0 377.6,184.3 385.2,184.3" fill="none" stroke="#0e4f80" stroke-width="1.45" stroke-linejoin="round" stroke-linecap="round"/>
<polyline points="385.2,184.3 387.8,181.7 394.2,176.6 395.5,170.2 400.6,167.6 409.6,165.1 418.5,162.5" fill="none" stroke="#0a4680" stroke-width="1.45" stroke-linejoin="round" stroke-linecap="round"/>
<polyline points="368.6,183.0 368.6,192.0 366.0,199.6 360.9,206.0 354.5,211.2 351.9,216.3 346.8,220.1 344.4,224.7" fill="none" stroke="#0e4f80" stroke-width="1.45" stroke-linejoin="round" stroke-linecap="round"/>
<polyline points="357.8,236.9 361.2,239.4 370.1,238.2 377.8,235.6 385.5,233.0 391.0,232.3" fill="none" stroke="#0e4f80" stroke-width="1.45" stroke-linejoin="round" stroke-linecap="round"/>
<polyline points="391.0,232.3 394.2,227.8 399.3,222.7 401.9,216.3 404.4,209.9" fill="none" stroke="#0a4680" stroke-width="1.45" stroke-linejoin="round" stroke-linecap="round"/>
<polyline points="404.4,209.9 399.3,204.8 395.5,197.1 390.4,189.4 385.2,184.3" fill="none" stroke="#0a4680" stroke-width="1.45" stroke-linejoin="round" stroke-linecap="round"/>
<polyline points="501.5,137.7 505.0,143.3 506.3,151.0 502.4,157.4 498.6,162.5 498.6,167.6 493.5,171.5 494.7,177.9 497.3,183.0" fill="none" stroke="#0a4680" stroke-width="1.45" stroke-linejoin="round" stroke-linecap="round"/>
<polyline points="497.3,183.0 502.4,185.5 507.6,189.4 512.7,194.5" fill="none" stroke="#0a4680" stroke-width="1.45" stroke-linejoin="round" stroke-linecap="round"/>
<polyline points="391.0,232.3 398.0,228.5 405.7,230.8 416.0,233.5 426.5,238.5 430.3,245.5 424.0,251.0 431.6,247.1 439.3,244.6 446.0,243.0 451.0,242.0" fill="none" stroke="#0a4680" stroke-width="1.45" stroke-linejoin="round" stroke-linecap="round"/>
<polyline points="451.0,242.0 452.5,249.7 455.1,257.4 458.9,265.1 460.2,274.0 461.5,279.1" fill="none" stroke="#0a4680" stroke-width="1.45" stroke-linejoin="round" stroke-linecap="round"/>
<polyline points="384.2,277.1 390.6,272.7 398.3,274.0 404.7,272.7 411.1,271.5 410.5,277.9 416.4,283.5 424.5,285.5 434.0,282.0 441.8,279.1 450.0,276.3 455.0,275.5 461.5,279.1" fill="none" stroke="#0a4680" stroke-width="1.45" stroke-linejoin="round" stroke-linecap="round"/>
<polyline points="384.5,70.3 385.8,77.9" fill="none" stroke="#27587a" stroke-width="1.35" stroke-linejoin="round" stroke-linecap="round"/>
<polyline points="385.8,77.9 392.2,79.2 399.9,77.9 405.0,83.1 408.8,89.5" fill="none" stroke="#27587a" stroke-width="1.35" stroke-linejoin="round" stroke-linecap="round"/>
<polyline points="450.0,61.3 446.0,65.1 440.8,67.7 439.6,71.5" fill="none" stroke="#3c4d5a" stroke-width="1.35" stroke-linejoin="round" stroke-linecap="round"/>
<polyline points="439.6,71.5 430.6,72.8 425.5,76.7 419.1,83.1 421.6,88.2 415.2,90.7 408.8,89.5" fill="none" stroke="#27587a" stroke-width="1.35" stroke-linejoin="round" stroke-linecap="round"/>
<polyline points="474.5,79.5 468.3,79.1 463.3,77.5 459.1,75.0 457.0,71.0 454.0,69.5 451.6,71.6" fill="none" stroke="#27587a" stroke-width="1.35" stroke-linejoin="round" stroke-linecap="round"/>
<polyline points="439.6,71.5 446.0,71.5 451.6,71.6" fill="none" stroke="#27587a" stroke-width="1.35" stroke-linejoin="round" stroke-linecap="round"/>
<polyline points="466.5,104.3 469.9,104.9 472.4,108.4 477.4,108.4 481.6,105.2" fill="none" stroke="#27587a" stroke-width="1.35" stroke-linejoin="round" stroke-linecap="round"/>
<polyline points="548.0,82.3 545.7,87.4 544.0,93.3 543.2,95.8" fill="none" stroke="#27587a" stroke-width="1.35" stroke-linejoin="round" stroke-linecap="round"/>
<polyline points="481.6,105.2 483.3,106.6 488.3,110.7 494.9,115.7 501.6,119.9 508.2,124.1 510.1,127.5 503.7,131.8 501.5,137.7" fill="none" stroke="#27587a" stroke-width="1.35" stroke-linejoin="round" stroke-linecap="round"/>
<polyline points="466.5,104.3 460.8,102.4 455.0,101.6 452.5,106.6 453.3,113.2 453.3,122.0 456.2,129.2 462.0,134.0" fill="none" stroke="#27587a" stroke-width="1.35" stroke-linejoin="round" stroke-linecap="round"/>
<polyline points="462.0,134.0 466.5,130.6 470.4,134.3 476.8,130.5 483.2,129.2 490.9,131.8 498.6,135.6 501.5,137.7" fill="none" stroke="#1c4668" stroke-width="1.35" stroke-linejoin="round" stroke-linecap="round"/>
<polyline points="288.7,229.1 295.9,227.9 306.1,225.4 315.1,221.5 321.5,217.7 327.9,221.5 334.3,226.6 341.9,227.9 344.4,224.7" fill="none" stroke="#27587a" stroke-width="1.35" stroke-linejoin="round" stroke-linecap="round"/>
<polyline points="344.4,224.7 349.6,229.2 354.8,234.3 357.8,236.9" fill="none" stroke="#27587a" stroke-width="1.35" stroke-linejoin="round" stroke-linecap="round"/>
<polyline points="512.7,194.5 516.5,199.6 517.8,206.0 516.5,212.4 512.7,217.6 508.8,221.8" fill="none" stroke="#1c4668" stroke-width="1.35" stroke-linejoin="round" stroke-linecap="round"/>
<polyline points="357.8,236.9 357.3,244.6 356.0,251.0 362.4,254.8 365.0,262.5 368.8,268.9 373.0,274.5 375.2,278.6" fill="none" stroke="#27587a" stroke-width="1.35" stroke-linejoin="round" stroke-linecap="round"/>
<polyline points="402.3,335.0 412.8,334.6 425.6,333.3 438.4,332.0 451.2,332.0 461.5,329.4 467.9,328.0" fill="none" stroke="#1c4668" stroke-width="1.35" stroke-linejoin="round" stroke-linecap="round"/>
<polyline points="467.9,328.0 474.3,329.4 479.4,338.4 480.7,347.4 483.2,353.8" fill="none" stroke="#1c4668" stroke-width="1.35" stroke-linejoin="round" stroke-linecap="round"/>
<polyline points="655.0,113.6 649.1,115.0 648.3,121.6 649.1,128.3 647.5,133.3 646.6,138.3 643.3,143.2 639.1,144.1 638.2,150.0" fill="none" stroke="#27587a" stroke-width="1.35" stroke-linejoin="round" stroke-linecap="round"/>
<polyline points="605.3,96.1 609.0,100.0 609.9,110.0 609.0,118.3 606.5,128.3 604.9,136.6 599.9,144.9 594.9,151.6 598.2,157.4 596.0,162.0 595.7,166.0" fill="none" stroke="#3c4d5a" stroke-width="1.35" stroke-linejoin="round" stroke-linecap="round"/>
<polyline points="543.2,95.8 542.2,104.0 544.9,112.5 549.1,114.1 548.3,120.0 549.1,126.6 544.9,133.3 549.9,135.8 554.9,139.1 557.5,143.5 559.9,148.3 566.6,153.3 573.2,157.4 577.4,164.1 581.6,168.2 586.6,167.4 592.4,164.9 595.7,166.0" fill="none" stroke="#27587a" stroke-width="1.35" stroke-linejoin="round" stroke-linecap="round"/>
<polyline points="595.7,166.0 597.0,171.5" fill="none" stroke="#27587a" stroke-width="1.35" stroke-linejoin="round" stroke-linecap="round"/>
<polyline points="591.4,182.0 586.6,183.4 579.9,180.2 571.6,176.8 563.2,173.4 558.4,170.9 556.6,175.7 551.6,181.6 544.9,182.6 536.6,181.8 529.9,184.9 523.3,188.2 515.6,193.3 512.7,194.5" fill="none" stroke="#27587a" stroke-width="1.35" stroke-linejoin="round" stroke-linecap="round"/>
<polyline points="508.8,221.8 514.0,227.5 520.4,233.0 525.7,238.0" fill="none" stroke="#1c4668" stroke-width="1.35" stroke-linejoin="round" stroke-linecap="round"/>
<polyline points="212.1,96.1 220.1,92.1 228.1,88.9 236.1,86.5 242.6,84.1 249.0,83.3 256.2,84.9" fill="none" stroke="#36404a" stroke-width="1.35" stroke-linejoin="round" stroke-linecap="round"/>
<polyline points="256.2,84.9 257.4,77.9 258.2,69.6 259.1,61.3 261.6,53.0 265.7,46.3 268.2,39.7 270.7,33.0" fill="none" stroke="#36404a" stroke-width="1.35" stroke-linejoin="round" stroke-linecap="round"/>
<polyline points="296.5,47.1 293.2,51.3 289.9,55.5 292.4,60.5 295.7,65.5 299.0,68.8 303.2,68.8 301.5,72.1 297.4,76.3 300.0,81.0 303.0,85.0" fill="none" stroke="#36404a" stroke-width="1.35" stroke-linejoin="round" stroke-linecap="round"/>
<polyline points="303.0,85.0 299.0,90.4 293.2,96.2 293.5,103.0" fill="none" stroke="#2a4459" stroke-width="1.35" stroke-linejoin="round" stroke-linecap="round"/>
<polyline points="293.5,103.0 288.5,104.5 280.8,108.3 271.8,109.6 264.1,105.8 257.5,101.6" fill="none" stroke="#36404a" stroke-width="1.35" stroke-linejoin="round" stroke-linecap="round"/>
<polyline points="257.5,101.6 257.0,93.0 256.2,84.9" fill="none" stroke="#36404a" stroke-width="1.35" stroke-linejoin="round" stroke-linecap="round"/>
<polyline points="257.5,101.6 249.0,101.0 241.8,102.6 241.0,105.8 242.6,111.4 244.2,117.8 243.6,122.3" fill="none" stroke="#36404a" stroke-width="1.35" stroke-linejoin="round" stroke-linecap="round"/>
<polyline points="293.5,103.0 296.2,105.8 303.8,109.6 304.6,115.1 303.0,120.5" fill="none" stroke="#2a4459" stroke-width="1.35" stroke-linejoin="round" stroke-linecap="round"/>
<polyline points="303.0,120.5 294.3,126.6 293.0,131.5" fill="none" stroke="#2a4459" stroke-width="1.35" stroke-linejoin="round" stroke-linecap="round"/>
<polyline points="396.0,59.2 393.5,65.1 387.1,67.7 384.5,70.3" fill="none" stroke="#3a4752" stroke-width="1.35" stroke-linejoin="round" stroke-linecap="round"/>
<polyline points="303.0,85.0 308.0,83.0 316.6,80.8 320.0,76.6 328.3,75.8 336.6,75.8 343.3,80.8 348.3,77.4 356.6,78.3 361.6,74.9 369.9,74.1 376.6,69.1 381.5,68.0 384.5,70.3" fill="none" stroke="#2a4459" stroke-width="1.35" stroke-linejoin="round" stroke-linecap="round"/>
<polyline points="479.5,64.7 478.3,70.0 476.6,75.8 474.5,79.5" fill="none" stroke="#3a4752" stroke-width="1.35" stroke-linejoin="round" stroke-linecap="round"/>
<polyline points="488.3,85.8 485.8,84.1 479.9,83.3 474.5,79.5" fill="none" stroke="#2a4459" stroke-width="1.35" stroke-linejoin="round" stroke-linecap="round"/>
<polyline points="506.6,62.5 503.2,67.5 499.9,70.8 498.2,75.8 495.7,79.9 492.4,83.6 488.3,85.8" fill="none" stroke="#2a4459" stroke-width="1.35" stroke-linejoin="round" stroke-linecap="round"/>
<polyline points="375.2,278.6 378.5,279.6 382.5,278.0 384.2,277.1" fill="none" stroke="#2a4459" stroke-width="1.35" stroke-linejoin="round" stroke-linecap="round"/>
<polyline points="276.3,282.6 280.8,278.3 285.0,274.1 290.8,276.6 294.9,279.1 296.6,285.8 303.3,288.2 308.3,289.1 314.9,289.9 318.2,293.2 323.2,296.6 328.2,293.2 333.2,294.9 338.2,291.6 342.4,289.1 346.5,291.6 348.2,287.4 354.9,285.8 359.9,282.4 368.2,279.9 375.2,278.6" fill="none" stroke="#3a4752" stroke-width="1.35" stroke-linejoin="round" stroke-linecap="round"/>
<polyline points="384.2,277.1 382.9,284.3 379.1,290.7 374.0,297.1 375.2,303.5 372.7,309.9 371.4,316.0" fill="none" stroke="#1e3a55" stroke-width="1.35" stroke-linejoin="round" stroke-linecap="round"/>
<polyline points="371.4,316.0 366.3,315.4 361.2,317.9 354.8,323.0 347.1,328.2 345.8,335.9 345.8,346.1" fill="none" stroke="#36404a" stroke-width="1.35" stroke-linejoin="round" stroke-linecap="round"/>
<polyline points="319.9,357.3 328.2,353.3 330.7,347.5 336.6,345.0 339.9,347.5 343.2,345.8 345.8,346.1" fill="none" stroke="#36404a" stroke-width="1.35" stroke-linejoin="round" stroke-linecap="round"/>
<polyline points="285.6,341.0 290.8,344.1 292.4,346.6 299.9,349.1 303.3,351.6 309.1,350.8 313.3,355.0 319.9,357.3" fill="none" stroke="#36404a" stroke-width="1.35" stroke-linejoin="round" stroke-linecap="round"/>
<polyline points="319.9,357.3 320.7,360.8 318.2,365.0 309.9,367.5 304.1,371.6 303.3,374.1 308.3,378.3 310.8,384.9 309.1,393.2 309.3,403.2 309.1,414.5" fill="none" stroke="#36404a" stroke-width="1.35" stroke-linejoin="round" stroke-linecap="round"/>
<polyline points="309.1,414.5 308.0,420.0" fill="none" stroke="#36404a" stroke-width="1.35" stroke-linejoin="round" stroke-linecap="round"/>
<polyline points="309.1,414.5 315.0,415.0 321.6,416.6 329.1,417.5 334.1,413.3 339.9,411.6 344.9,414.1 349.1,410.0 353.2,408.3 357.4,412.5 363.0,411.0" fill="none" stroke="#36404a" stroke-width="1.35" stroke-linejoin="round" stroke-linecap="round"/>
<polyline points="345.8,346.1 348.3,352.5 352.2,360.2 356.0,366.6 353.5,374.3 358.6,375.5 365.0,373.0 370.1,373.0 372.7,379.4 372.7,384.5 377.8,390.9 382.0,394.5 383.7,397.7" fill="none" stroke="#36404a" stroke-width="1.35" stroke-linejoin="round" stroke-linecap="round"/>
<polyline points="383.7,397.7 378.2,400.0 373.2,402.5 368.2,406.6 363.0,411.0" fill="none" stroke="#3a4752" stroke-width="1.35" stroke-linejoin="round" stroke-linecap="round"/>
<polyline points="363.0,411.0 363.2,415.8 356.6,419.1 354.1,423.3 354.1,429.1 348.3,434.1 350.8,438.3 354.1,443.3 356.6,447.4" fill="none" stroke="#3a4752" stroke-width="1.35" stroke-linejoin="round" stroke-linecap="round"/>
<polyline points="399.0,398.5 399.9,406.6 404.9,412.5 411.5,416.6 417.5,420.4 421.0,423.0" fill="none" stroke="#3a4752" stroke-width="1.35" stroke-linejoin="round" stroke-linecap="round"/>
<polyline points="383.7,397.7 388.2,398.3 394.0,395.8 399.0,398.5" fill="none" stroke="#3a4752" stroke-width="1.35" stroke-linejoin="round" stroke-linecap="round"/>
<polyline points="411.3,389.0 404.7,392.2 399.0,398.5" fill="none" stroke="#36404a" stroke-width="1.35" stroke-linejoin="round" stroke-linecap="round"/>
<polyline points="402.3,335.0 404.2,343.5 405.0,352.0 402.1,360.2 401.0,367.9 404.3,374.3 407.4,380.0 410.0,385.0 411.3,389.0" fill="none" stroke="#3a4752" stroke-width="1.35" stroke-linejoin="round" stroke-linecap="round"/>
<polyline points="371.4,316.0 377.8,321.8 385.5,326.9 393.2,330.7 402.3,335.0" fill="none" stroke="#1e3a55" stroke-width="1.35" stroke-linejoin="round" stroke-linecap="round"/>
<polyline points="523.5,277.5 528.0,281.2 534.4,284.3 534.4,291.9 533.2,297.1 539.6,302.2 546.0,306.0 547.0,312.4" fill="none" stroke="#1e3a55" stroke-width="1.35" stroke-linejoin="round" stroke-linecap="round"/>
<polyline points="547.0,312.4 545.0,318.0 541.5,317.5" fill="none" stroke="#1e3a55" stroke-width="1.35" stroke-linejoin="round" stroke-linecap="round"/>
<polyline points="541.5,317.5 534.4,316.5 529.3,317.6 525.5,322.7 522.9,330.4 519.1,336.8 512.7,335.7 505.0,338.2 496.0,343.5 488.3,349.9 483.2,353.8" fill="none" stroke="#1e3a55" stroke-width="1.35" stroke-linejoin="round" stroke-linecap="round"/>
<polyline points="483.2,353.8 475.5,353.8 469.1,360.2 462.7,367.9 460.2,374.3 452.5,376.8 442.3,376.8 433.3,379.4 425.6,383.2 417.9,388.3 411.3,389.0" fill="none" stroke="#3a4752" stroke-width="1.35" stroke-linejoin="round" stroke-linecap="round"/>
<polyline points="483.2,353.8 488.3,360.2 489.6,361.5" fill="none" stroke="#36404a" stroke-width="1.35" stroke-linejoin="round" stroke-linecap="round"/>
<polyline points="489.6,361.5 488.3,369.1 485.8,376.8 481.9,383.2 475.5,388.3 471.7,394.8 464.0,397.3 461.5,402.4 457.6,407.6 455.1,415.2 453.8,424.2" fill="none" stroke="#36404a" stroke-width="1.35" stroke-linejoin="round" stroke-linecap="round"/>
<polyline points="489.6,361.5 499.9,362.7 501.2,370.4 505.0,379.4 511.4,385.8 516.5,389.6" fill="none" stroke="#36404a" stroke-width="1.35" stroke-linejoin="round" stroke-linecap="round"/>
<polyline points="553.6,362.7 549.8,357.6 546.0,351.2 543.4,344.8 540.8,337.1 540.8,329.4 542.1,321.8 541.5,317.5" fill="none" stroke="#36404a" stroke-width="1.35" stroke-linejoin="round" stroke-linecap="round"/>
<polyline points="547.0,312.4 553.6,312.6 560.0,313.9 563.9,310.0 574.1,307.5 583.5,306.3" fill="none" stroke="#36404a" stroke-width="1.35" stroke-linejoin="round" stroke-linecap="round"/>
<polyline points="547.6,249.6 552.7,253.5 557.9,256.0 563.0,259.5 566.8,256.5 573.2,257.3 576.0,261.5" fill="none" stroke="#36404a" stroke-width="1.35" stroke-linejoin="round" stroke-linecap="round"/>
<polyline points="592.4,204.8 584.8,204.8 577.1,202.3 570.7,207.4 568.1,211.2 570.7,218.9 569.4,226.6 564.3,233.0 557.9,238.1 551.5,244.5 547.6,249.6" fill="none" stroke="#3a4752" stroke-width="1.35" stroke-linejoin="round" stroke-linecap="round"/>
<polyline points="592.4,204.8 597.6,209.9 604.0,213.8" fill="none" stroke="#36404a" stroke-width="1.35" stroke-linejoin="round" stroke-linecap="round"/>
<polyline points="591.4,182.0 592.4,186.9 593.7,195.8 592.4,204.8" fill="none" stroke="#3a4752" stroke-width="1.35" stroke-linejoin="round" stroke-linecap="round"/>
<polyline points="591.4,182.0 596.3,176.6 597.0,171.5" fill="none" stroke="#2a4459" stroke-width="1.35" stroke-linejoin="round" stroke-linecap="round"/>
<polyline points="597.0,171.5 600.9,171.6 608.6,170.4 617.6,166.5 625.2,161.4 630.4,156.3 638.2,150.0" fill="none" stroke="#3a4752" stroke-width="1.35" stroke-linejoin="round" stroke-linecap="round"/>
<polyline points="638.2,150.0 641.9,161.4 647.0,167.8 649.8,174.2" fill="none" stroke="#2a4459" stroke-width="1.35" stroke-linejoin="round" stroke-linecap="round"/>
<polyline points="655.0,113.6 664.1,113.3 660.8,118.3 664.1,121.6 671.6,122.4 677.4,124.1 682.4,126.6 681.6,133.3 677.4,137.4 684.9,141.6 691.6,143.2 695.5,146.3" fill="none" stroke="#2a4459" stroke-width="1.35" stroke-linejoin="round" stroke-linecap="round"/>
<polyline points="654.3,107.8 655.0,113.6" fill="none" stroke="#3a4752" stroke-width="1.35" stroke-linejoin="round" stroke-linecap="round"/>
<polyline points="525.7,238.0 528.4,236.3 536.1,240.7 537.4,244.5 543.8,246.6 547.6,249.6" fill="none" stroke="#3a4752" stroke-width="1.35" stroke-linejoin="round" stroke-linecap="round"/>
<polyline points="525.7,238.0 527.1,243.2 532.3,245.8 533.3,250.0 532.0,257.3 528.4,262.4 523.3,266.3 521.0,272.0 523.5,277.5" fill="none" stroke="#1e3a55" stroke-width="1.35" stroke-linejoin="round" stroke-linecap="round"/>
<polyline points="270.7,33.0 268.2,35.5 266.6,34.3 264.1,38.0 262.4,34.7 260.7,37.2 258.2,36.3 255.8,38.8 254.1,38.0 252.4,41.3 248.3,43.0 244.9,44.6 244.1,47.1 247.4,46.6 250.8,47.6 247.0,48.2 244.9,49.3 248.3,50.5 250.8,51.3 246.6,53.0 248.3,56.3 247.4,58.0 243.3,53.8 239.9,54.6 234.9,55.5 228.3,56.3 222.5,54.6 220.0,57.1 216.6,58.8 211.6,60.5 210.8,63.0 207.5,63.8 204.0,68.0 203.2,73.7 205.6,76.9 204.8,80.1 208.0,82.5 207.2,85.7 211.3,85.7 215.3,83.3 212.1,87.3 210.4,90.5 209.6,95.3 212.1,96.1" fill="none" stroke="#36404a" stroke-width="1.35" stroke-linejoin="round" stroke-linecap="round"/>
<polyline points="270.7,33.0 274.9,38.0 278.2,37.2 283.2,41.3 287.4,45.5 291.5,46.3 296.5,47.1" fill="none" stroke="#36404a" stroke-width="1.35" stroke-linejoin="round" stroke-linecap="round"/>
<polyline points="243.6,122.3 238.5,124.2 231.3,127.4 223.3,131.5 216.1,134.7" fill="none" stroke="#36404a" stroke-width="1.35" stroke-linejoin="round" stroke-linecap="round"/>
<polyline points="216.1,134.7 215.3,129.0 216.1,123.4 221.7,117.8 217.7,120.2 216.1,116.2 220.9,113.8 227.3,109.8 224.1,111.4 217.7,112.2 215.3,109.0 220.1,108.2 226.5,105.0 223.3,106.6 218.5,104.2 214.5,104.2 216.1,100.1 218.5,95.3 213.7,99.3 210.4,100.1 212.1,96.1" fill="none" stroke="#36404a" stroke-width="1.35" stroke-linejoin="round" stroke-linecap="round"/>
<polyline points="243.6,122.3 245.8,128.2 247.4,133.1 247.3,139.3 255.5,135.5 262.0,140.0 271.0,138.8 276.3,141.7 282.5,137.0 289.0,135.0 293.0,131.5" fill="none" stroke="#36404a" stroke-width="1.35" stroke-linejoin="round" stroke-linecap="round"/>
<polyline points="296.5,47.1 303.0,46.0 310.2,46.4 318.0,47.6 325.6,47.8 332.0,47.2 336.0,48.2 340.0,46.0 343.5,43.6 347.0,46.5 349.9,49.0 356.0,50.2 361.5,51.0 363.0,52.6 368.0,53.0 374.3,55.2 381.0,57.2 387.1,58.0 396.0,59.2" fill="none" stroke="#36404a" stroke-width="1.35" stroke-linejoin="round" stroke-linecap="round"/>
<polyline points="396.0,59.2 402.4,58.7 412.7,57.4 422.9,56.2 425.5,53.6 428.0,55.7 435.7,53.6 439.6,57.4 443.4,58.7 450.0,61.3" fill="none" stroke="#3a4752" stroke-width="1.35" stroke-linejoin="round" stroke-linecap="round"/>
<polyline points="450.0,61.3 456.6,58.3 465.8,56.6 471.6,59.1 477.4,62.5 479.5,64.7" fill="none" stroke="#3a4752" stroke-width="1.35" stroke-linejoin="round" stroke-linecap="round"/>
<polyline points="479.5,64.7 486.6,65.0 494.9,63.3 500.7,61.6 504.9,59.6 506.6,62.5" fill="none" stroke="#36404a" stroke-width="1.35" stroke-linejoin="round" stroke-linecap="round"/>
<polyline points="506.6,62.5 509.9,65.0 514.1,66.6 516.6,65.0 521.5,67.5 522.4,73.3 519.9,77.5 523.2,77.5 525.7,75.0 526.5,78.3 533.2,79.9 539.9,82.4 544.9,84.1 548.0,82.3" fill="none" stroke="#2a4459" stroke-width="1.35" stroke-linejoin="round" stroke-linecap="round"/>
<polyline points="293.0,131.5 299.4,135.6 308.4,139.4 312.3,147.1 316.1,153.5 323.8,156.1" fill="none" stroke="#f6fcfe" stroke-width="2.2" stroke-opacity="0.8" stroke-linejoin="round" stroke-linecap="round"/>
<polyline points="312.3,172.7 305.9,176.6 295.6,185.5 296.9,194.5 299.4,204.8 296.9,212.4 300.7,220.1 295.6,226.5 288.7,229.1" fill="none" stroke="#2a4459" stroke-width="1.35" stroke-linejoin="round" stroke-linecap="round"/>
<polyline points="288.7,229.1 289.3,231.5 292.4,238.3 293.3,245.0 290.0,252.5 286.6,258.3 280.0,260.8 271.6,260.8 265.0,260.8 269.1,266.6 273.3,273.3 276.3,282.6" fill="none" stroke="#3a4752" stroke-width="1.35" stroke-linejoin="round" stroke-linecap="round"/>
<polyline points="276.3,282.6 277.5,287.4 282.5,290.7 285.8,295.7 282.5,303.2 276.6,310.7 272.5,319.0 272.5,328.0 276.0,335.0 280.0,339.0 285.6,341.0" fill="none" stroke="#36404a" stroke-width="1.35" stroke-linejoin="round" stroke-linecap="round"/>
<polyline points="285.6,341.0 283.3,348.3 278.3,351.6 272.5,354.1 270.0,360.8 264.2,368.3 260.0,375.8 261.7,383.3 263.3,391.6 265.1,396.0" fill="none" stroke="#36404a" stroke-width="1.35" stroke-linejoin="round" stroke-linecap="round"/>
<polyline points="265.1,396.0 275.4,396.0 283.0,396.0 290.7,401.2 296.7,405.8 303.3,413.3 308.0,420.0" fill="none" stroke="#36404a" stroke-width="1.35" stroke-linejoin="round" stroke-linecap="round"/>
<polyline points="308.0,420.0 305.0,422.5 307.5,428.3 311.6,434.1 315.0,441.6 319.1,449.1 323.3,454.1 329.9,455.7 335.8,459.9 340.8,464.1 347.4,461.6 349.1,456.6 353.2,454.1 356.6,447.4" fill="none" stroke="#36404a" stroke-width="1.35" stroke-linejoin="round" stroke-linecap="round"/>
<polyline points="356.6,447.4 363.2,442.4 371.6,439.1 379.9,438.3 388.2,434.9 394.9,429.1 401.5,426.6 409.8,425.8 421.0,423.0" fill="none" stroke="#3a4752" stroke-width="1.35" stroke-linejoin="round" stroke-linecap="round"/>
<polyline points="421.0,423.0 429.0,425.5 438.4,426.8 446.1,425.5 453.8,424.2" fill="none" stroke="#36404a" stroke-width="1.35" stroke-linejoin="round" stroke-linecap="round"/>
<polyline points="453.8,424.2 460.2,425.5 466.6,426.8 474.3,425.5 483.2,420.4 490.9,422.9 496.0,425.5 501.2,419.1 505.0,411.4 508.8,403.7 512.7,396.0 516.5,389.6" fill="none" stroke="#36404a" stroke-width="1.35" stroke-linejoin="round" stroke-linecap="round"/>
<polyline points="516.5,389.6 525.5,383.2 535.7,378.1 546.0,376.8 554.9,375.5 557.5,373.0 553.6,367.9 553.6,362.7" fill="none" stroke="#36404a" stroke-width="1.35" stroke-linejoin="round" stroke-linecap="round"/>
<polyline points="583.5,306.3 590.8,307.5 596.3,312.3 590.8,317.8 584.4,321.6 576.7,325.4 570.3,330.5 566.5,337.0 563.9,344.8 558.8,351.2 556.2,357.6 553.6,362.7" fill="none" stroke="#36404a" stroke-width="1.35" stroke-linejoin="round" stroke-linecap="round"/>
<polyline points="576.0,261.5 571.9,270.1 570.7,277.8 573.6,285.0 576.7,294.5 581.0,303.0 583.5,306.3" fill="none" stroke="#36404a" stroke-width="1.35" stroke-linejoin="round" stroke-linecap="round"/>
<polyline points="604.0,213.8 600.1,221.5 595.0,229.1 588.6,238.1 583.5,245.8 578.3,254.7 576.0,261.5" fill="none" stroke="#36404a" stroke-width="1.35" stroke-linejoin="round" stroke-linecap="round"/>
<polyline points="649.8,174.2 641.1,179.2 632.1,183.0 623.2,185.6 618.0,192.0 612.9,198.4 618.0,202.3 616.8,207.4 610.4,211.2 604.0,213.8" fill="none" stroke="#36404a" stroke-width="1.35" stroke-linejoin="round" stroke-linecap="round"/>
<polyline points="695.5,146.3 689.9,151.6 683.2,155.7 676.6,160.7 668.8,165.2 661.1,170.4 649.8,174.2" fill="none" stroke="#2a4459" stroke-width="1.35" stroke-linejoin="round" stroke-linecap="round"/>
<polyline points="654.3,107.8 658.0,108.0 660.0,110.0 664.9,107.5 669.9,105.8 676.6,107.5 683.2,110.0 688.2,108.3 690.7,105.0 696.6,102.5 702.4,101.3 707.4,103.3 709.9,107.5 714.9,109.1 713.2,112.5 708.2,114.1 708.2,119.1 710.7,123.3 712.4,129.1 710.7,134.9 704.9,139.9 699.1,144.1 695.5,146.3" fill="none" stroke="#36404a" stroke-width="1.35" stroke-linejoin="round" stroke-linecap="round"/>
<polyline points="605.3,96.1 606.0,88.4 608.6,85.9 617.6,88.4 626.7,90.5 632.5,92.5 636.6,96.6 638.3,103.3 640.8,107.5 645.0,105.0 650.0,104.1 654.3,107.8" fill="none" stroke="#3a4752" stroke-width="1.35" stroke-linejoin="round" stroke-linecap="round"/>
<polyline points="548.0,82.3 551.0,87.1 557.4,91.0 565.1,88.4 571.5,92.3 579.1,96.1 588.1,93.5 595.8,96.1 605.3,96.1" fill="none" stroke="#3a4752" stroke-width="1.35" stroke-linejoin="round" stroke-linecap="round"/>
<polyline points="323.8,156.1 322.5,161.2 317.4,167.6 312.3,172.7" fill="none" stroke="#2a4459" stroke-width="1.35" stroke-linejoin="round" stroke-linecap="round"/>
<polyline points="537.4,244.5 532.3,245.8" fill="none" stroke="#36404a" stroke-width="1.2"/>
<path d="M280.5,392.5 l3,1.5 l1.8,-3.2 l0.4,4.4 l2.2,2.2 l-4.4,-1.2 l-2.6,0.6 z" fill="#1c2228" stroke="#1c2228" stroke-width="0.8" stroke-linejoin="round"/>
<path d="M310.2,432.6 l3.4,0.6 l1.2,2.2 l-1.6,0.6 l1.8,2.6 l-1.4,1.6 l-2,-3.4 z" fill="#1c2228" stroke="#1c2228" stroke-width="0.6" stroke-linejoin="round"/>
<path d="M342,434.6 l3.6,-0.6 l1.6,-1.6" fill="none" stroke="#1c2228" stroke-width="1.6" stroke-linecap="round"/>
<polygon points="544.6,119.6 546.6,114.6 549,114.4 548.6,118.6 546.4,121.4" fill="#e8f3fa" stroke="#27587a" stroke-width="1"/>
<path d="M531.8,112.6 l1.6,-1.8 l2.2,-0.4" fill="none" stroke="#0c3a66" stroke-width="1.4" stroke-linecap="round"/>
<polygon points="375.6,278.6 377.6,271.2 379.6,269.9 383.1,273.8 382.6,277.6 378.6,279.4" fill="#0780c8" stroke="#0c4f88" stroke-width="1.2" stroke-linejoin="round"/>
<ellipse cx="468.7" cy="96.2" rx="5.2" ry="2.8" fill="#2baadd" stroke="#36404a" stroke-width="1.1"/>
<polygon points="439.5,67.5 445.5,66.5 446.5,71.5 440,72.5" fill="#f0f1fb" stroke="#36404a" stroke-width="1"/>
</g>
<g><text x="708.3" y="265.1">2.4%</text>
<text x="70" y="484.8">2.1%</text></g>
<polygon points="683.1,262.6 691.4,256.7 698.7,250.3 707.0,244.8 714.3,242.0 719.8,239.3 715.3,243.9 717.1,248.5 722.6,251.2 728.1,249.4 731.8,253.0 729.9,259.5 726.3,265.9 721.7,272.3 717.1,277.8 712.5,274.1 706.1,273.2 702.4,269.6 701.5,265.0 696.9,263.1 692.3,265.0 690.5,267.7 686.8,265.0" fill="#f0f1fb" stroke="#36404a" stroke-width="1.25" stroke-linejoin="round"/>
<polygon points="744.6,233.8 750.1,231.0 756.6,230.1 762.1,233.8 766.7,239.3 765.7,244.8 761.1,242.0 755.6,238.4 750.1,238.4 745.5,238.4" fill="#f0f1fb" stroke="#36404a" stroke-width="1.25" stroke-linejoin="round"/>
<polygon points="637.0,299.0 639.5,298.0 641.6,294.4 645.7,291.9 650.8,290.1 654.3,291.3 656.4,293.9 654.3,295.4 651.8,299.0 647.7,302.6 645.7,305.1 641.6,303.6 637.5,304.6 638.5,301.6" fill="#f0f1fb" stroke="#36404a" stroke-width="1.25" stroke-linejoin="round"/>
<polygon points="645.7,305.1 647.2,309.7 645.7,313.8 646.7,316.4 648.7,314.3 650.8,313.8 654.3,314.8 653.8,313.3 650.2,312.3 647.7,310.2" fill="#f0f1fb" stroke="#36404a" stroke-width="1.25" stroke-linejoin="round"/>
<polygon points="25.0,449.3 30.0,446.0 37.5,448.5 38.3,454.3 35.8,461.8 30.8,468.5 28.3,463.5 25.8,455.1" fill="#f0f1fb" stroke="#36404a" stroke-width="1.25" stroke-linejoin="round"/>
<polygon points="10.0,506.7 15.0,505.9 20.0,502.6 24.1,503.4 22.5,508.4 18.3,513.4 15.0,510.1" fill="#f0f1fb" stroke="#36404a" stroke-width="1.25" stroke-linejoin="round"/>
<polygon points="75.7,479.3 83.2,480.1 93.2,478.4 99.9,474.3 106.5,471.0 114.8,471.0 115.7,474.3 108.2,477.6 103.2,482.6 99.9,490.9 93.2,498.4 84.9,500.9 81.6,494.3 78.2,485.9" fill="#f0f1fb" stroke="#36404a" stroke-width="1.25" stroke-linejoin="round"/>
<polygon points="133.8,497.0 140.0,498.8 148.1,498.8 149.9,506.9 148.1,515.8 141.8,520.3 135.6,521.2 129.3,516.7 126.6,510.5 127.5,504.2 131.1,499.7" fill="#f0f1fb" stroke="#36404a" stroke-width="1.25" stroke-linejoin="round"/>
<polygon points="220.5,473.8 228.5,472.9 228.5,481.9 225.9,490.8 222.3,499.7 215.1,502.4 208.0,504.2 201.7,508.7 197.2,509.6 192.8,507.2 198.1,507.2 204.4,504.2 208.0,499.7 211.5,493.5 216.0,483.6 218.7,477.4" fill="#f0f1fb" stroke="#36404a" stroke-width="1.25" stroke-linejoin="round"/>
<polygon points="228.5,464.9 231.2,458.6 238.4,455.0 245.5,452.3 248.2,447.9 251.8,450.6 249.1,458.6 242.8,463.1 236.6,464.9 232.1,468.4" fill="#f0f1fb" stroke="#36404a" stroke-width="1.25" stroke-linejoin="round"/>
<ellipse cx="58.3" cy="490.9" rx="5.6" ry="5.2" fill="#f0f1fb" stroke="#36404a" stroke-width="1.25"/>
<circle cx="711.6" cy="284.2" r="1.5" fill="#36404a"/>
<circle cx="129.2" cy="390.8" r="1.2" fill="#36404a"/>
<circle cx="138.4" cy="386" r="1.1" fill="#36404a"/>
<circle cx="247.3" cy="445.2" r="1.2" fill="#36404a"/>
<circle cx="247.7" cy="438.6" r="0.8" fill="#36404a"/>
<circle cx="612.4" cy="249.1" r="0.9" fill="#36404a"/>
<g><defs><clipPath id="clBI"><rect x="460.3" y="60" width="30" height="20"/></clipPath><clipPath id="clPO"><rect x="220" y="98" width="22.4" height="20"/></clipPath><clipPath id="clVI"><path d="M450,80 h30 v20 h-30 z M463.5,96.2 a5.2,2.8 0 1 0 10.4,0 a5.2,2.8 0 1 0 -10.4,0 z" clip-rule="evenodd"/></clipPath></defs>
<text x="237.4" y="71.2" fill="#3c4450" fill-opacity="0.72">1.8%</text>
<text x="277.4" y="79.8" fill="#3c4450" fill-opacity="0.72">2.3%</text>
<text x="234.6" y="109.4" clip-path="url(#clPO)" fill="#3c4450" fill-opacity="0.72">2.3%</text>
<text x="269.3" y="123.6" fill="#3c4450" fill-opacity="0.72">2.8%</text>
<text x="337.1" y="66.5" fill="#3c4450" fill-opacity="0.72">1.8%</text>
<text x="342.3" y="103.4" fill="#163e5c" fill-opacity="0.42">7.0%</text>
<text x="415.2" y="73.5" fill="#34485a" fill-opacity="0.64">3.2%</text>
<text x="463.0" y="72.3" clip-path="url(#clBI)" fill="#34485a" fill-opacity="0.64">3.9%</text>
<text x="488.3" y="77.3" fill="#3c4450" fill-opacity="0.72">2.8%</text>
<text x="465.8" y="93.1" clip-path="url(#clVI)" fill="#163e5c" fill-opacity="0.42">7.2%</text>
<text x="511.6" y="102.3" fill="#163e5c" fill-opacity="0.42">5.8%</text>
<text x="476.6" y="124.8" fill="#34485a" fill-opacity="0.64">3.3%</text>
<text x="393.5" y="119.5" fill="#163e5c" fill-opacity="0.42">6.4%</text>
<text x="433.2" y="119.5" fill="#163e5c" fill-opacity="0.42">5.3%</text>
<text x="334.0" y="152.1" fill="#163e5c" fill-opacity="0.42">5.9%</text>
<text x="380.1" y="159.3" fill="#163e5c" fill-opacity="0.42">6.0%</text>
<text x="413.4" y="185.4" fill="#0a3560" fill-opacity="0.27">12.6%</text>
<text x="328.9" y="202.8" fill="#163e5c" fill-opacity="0.42">7.9%</text>
<text x="375.0" y="217.7" fill="#163e5c" fill-opacity="0.42">6.9%</text>
<text x="427.5" y="222.0" fill="#0a3560" fill-opacity="0.27">11.3%</text>
<text x="474.3" y="160.6" fill="#0a3560" fill-opacity="0.27">14.2%</text>
<text x="474.3" y="204.6" fill="#0a3560" fill-opacity="0.27">10.9%</text>
<text x="537.0" y="160.1" fill="#163e5c" fill-opacity="0.42">5.3%</text>
<text x="548.5" y="211.8" fill="#34485a" fill-opacity="0.64">3.3%</text>
<text x="577.0" y="234.2" fill="#3c4450" fill-opacity="0.72">2.8%</text>
<text x="576.6" y="127.0" fill="#34485a" fill-opacity="0.64">4.1%</text>
<text x="622.7" y="133.9" fill="#34485a" fill-opacity="0.64">3.7%</text>
<text x="689.3" y="124.4" fill="#3c4450" fill-opacity="0.72">2.5%</text>
<text x="662.4" y="149.2" fill="#163e5c" fill-opacity="0.42">7.1%</text>
<text x="614.7" y="186.8" fill="#3c4450" fill-opacity="0.72">1.6%</text>
<text x="550.7" y="283.0" fill="#3c4450" fill-opacity="0.72">2.3%</text>
<text x="491.7" y="255.5" fill="#0a3560" fill-opacity="0.27">13.5%</text>
<text x="501.2" y="313.6" fill="#0a3560" fill-opacity="0.27">11.8%</text>
<text x="421.8" y="308.5" fill="#0a3560" fill-opacity="0.27">11.1%</text>
<text x="408.5" y="260.1" fill="#163e5c" fill-opacity="0.42">9.3%</text>
<text x="322.7" y="263.1" fill="#34485a" fill-opacity="0.64">3.7%</text>
<text x="321.5" y="318.2" fill="#3c4450" fill-opacity="0.72">2.6%</text>
<text x="561.3" y="331.9" fill="#3c4450" fill-opacity="0.72">2.7%</text>
<text x="522.9" y="358.8" fill="#3c4450" fill-opacity="0.72">1.4%</text>
<text x="437.6" y="358.8" fill="#34485a" fill-opacity="0.64">3.6%</text>
<text x="444.8" y="398.0" fill="#3c4450" fill-opacity="0.72">2.4%</text>
<text x="485.8" y="403.6" fill="#3c4450" fill-opacity="0.72">1.8%</text>
<text x="378.3" y="359.0" fill="#3c4450" fill-opacity="0.72">2.4%</text>
<text x="290.0" y="379.5" fill="#3c4450" fill-opacity="0.72">1.5%</text>
<text x="339.4" y="389.0" fill="#3c4450" fill-opacity="0.72">2.3%</text>
<text x="380.4" y="424.1" fill="#34485a" fill-opacity="0.64">4.4%</text>
<text x="334.1" y="437.8" fill="#3c4450" fill-opacity="0.72">1.7%</text>
<text x="352.5" y="474.2" fill-opacity="0.74">1.4%</text>
<text x="459.6" y="508.2" fill-opacity="0.74">1.9%</text>
<text x="192.3" y="495.8" fill-opacity="0.74">1.4%</text></g>
<g id="ttl">
<text class="tt" x="13.1" y="23.4" textLength="56.8" lengthAdjust="spacingAndGlyphs">Mapa</text>
<text class="tt" x="75.2" y="23.4" textLength="95.6" lengthAdjust="spacingAndGlyphs">provincial</text>
<text class="tt" x="175.3" y="23.4" textLength="23.6" lengthAdjust="spacingAndGlyphs">de</text>
<text class="tt" x="203.9" y="23.4" textLength="113.4" lengthAdjust="spacingAndGlyphs">anticuerpos</text>
<text class="tt" x="325.8" y="23.4" textLength="32.4" lengthAdjust="spacingAndGlyphs">IgG</text>
<text class="tt" x="363.1" y="23.4" textLength="36.3" lengthAdjust="spacingAndGlyphs">anti</text>
<text class="tt" x="405.8" y="23.4" textLength="105.9" lengthAdjust="spacingAndGlyphs">SARS-CoV2</text>
<text class="tt" x="518.3" y="23.4" textLength="75.1" lengthAdjust="spacingAndGlyphs">durante</text>
<text class="tt" x="598.7" y="23.4" textLength="15.9" lengthAdjust="spacingAndGlyphs">la</text>
<text class="tt" x="621.7" y="23.4" textLength="77.2" lengthAdjust="spacingAndGlyphs">primera</text>
<text class="tt" x="704.1" y="23.4" textLength="56.8" lengthAdjust="spacingAndGlyphs">ronda</text>
</g>
<!-- logos -->
<g id="logos">
<rect x="14.4" y="91.4" width="6.6" height="37.8" fill="#2a2d80"/>
<rect x="21" y="91.4" width="6.2" height="37.8" fill="#fbd81c"/>
<rect x="21" y="91.4" width="6.2" height="9.2" fill="#b5202e"/>
<rect x="21" y="120.6" width="6.2" height="8.6" fill="#b5202e"/>
<rect x="20.4" y="91.4" width="1.4" height="9.2" fill="#6a2860"/>
<rect x="20.4" y="120.6" width="1.4" height="8.6" fill="#6a2860"/>
<circle cx="17.8" cy="104.1" r="0.55" fill="#d8d8f0" fill-opacity="0.85"/>
<circle cx="17.8" cy="110.9" r="0.55" fill="#d8d8f0" fill-opacity="0.85"/>
<circle cx="17.8" cy="117.5" r="0.55" fill="#d8d8f0" fill-opacity="0.85"/>
<rect x="27.2" y="91.4" width="66.3" height="37.8" fill="#f8c712"/>
<rect x="96.8" y="91.4" width="53.6" height="37.8" fill="#f8c712"/>
<g transform="translate(46.8,111.9)"><rect x="-12.6" y="-4" width="2.6" height="11" fill="#c9952a"/><rect x="10" y="-4" width="2.6" height="11" fill="#c9952a"/><path d="M-14,-1 q3,-3 6,0 q-3,2 -6,4 z" fill="#c0462c" fill-opacity="0.8"/><path d="M14,-1 q-3,-3 -6,0 q3,2 6,4 z" fill="#c0462c" fill-opacity="0.8"/><rect x="-13.4" y="6.6" width="4.2" height="1.6" fill="#8c7a28"/><rect x="9.2" y="6.6" width="4.2" height="1.6" fill="#8c7a28"/><circle cx="-11.3" cy="-5.4" r="1.3" fill="#c9772a"/><circle cx="11.3" cy="-5.4" r="1.3" fill="#c9772a"/><path d="M-7.4,-6.5 h14.8 v9.5 q0,7 -7.4,8.8 q-7.4,-1.8 -7.4,-8.8 z" fill="#c6342b"/><rect x="-7.4" y="-6.5" width="7.4" height="6.5" fill="#cf4a36"/><rect x="0" y="-6.5" width="7.4" height="6.5" fill="#d9b9b4"/><ellipse cx="0.6" cy="0.6" rx="2.4" ry="3" fill="#5a63a8"/><ellipse cx="0.6" cy="0.6" rx="1.3" ry="1.7" fill="#c8c8e0"/><path d="M-6.6,-7 q0,-5.4 6.6,-5.6 q6.6,0.2 6.6,5.6 z" fill="#c23a2a"/><rect x="-6.8" y="-8.2" width="13.6" height="1.6" fill="#c9952a"/><circle cx="0" cy="-13.2" r="1" fill="#c9952a"/></g>
<text class="lt" x="64.2" y="108.5" textLength="24" lengthAdjust="spacingAndGlyphs">GOBIERNO</text>
<text class="lt" x="64.2" y="113.6" textLength="24" lengthAdjust="spacingAndGlyphs">DE ESPAÑA</text>
<text class="lt2" x="104" y="107.6" textLength="34.5" lengthAdjust="spacingAndGlyphs">MINISTERIO</text>
<text class="lt2" x="104" y="114.2" textLength="37.5" lengthAdjust="spacingAndGlyphs">DE SANIDAD</text>
<rect x="14.4" y="145.4" width="6.6" height="37.6" fill="#2a2d80"/>
<rect x="21" y="145.4" width="6.2" height="37.6" fill="#fbd81c"/>
<rect x="21" y="145.4" width="6.2" height="9.2" fill="#b5202e"/>
<rect x="21" y="174.4" width="6.2" height="8.6" fill="#b5202e"/>
<rect x="20.4" y="145.4" width="1.4" height="9.2" fill="#6a2860"/>
<rect x="20.4" y="174.4" width="1.4" height="8.6" fill="#6a2860"/>
<circle cx="17.8" cy="158.0" r="0.55" fill="#d8d8f0" fill-opacity="0.85"/>
<circle cx="17.8" cy="164.8" r="0.55" fill="#d8d8f0" fill-opacity="0.85"/>
<circle cx="17.8" cy="171.4" r="0.55" fill="#d8d8f0" fill-opacity="0.85"/>
<rect x="27.2" y="145.4" width="66.3" height="37.6" fill="#f8c712"/>
<rect x="96.8" y="145.4" width="55.8" height="37.6" fill="#f8c712"/>
<g transform="translate(46.8,165.8)"><rect x="-12.6" y="-4" width="2.6" height="11" fill="#c9952a"/><rect x="10" y="-4" width="2.6" height="11" fill="#c9952a"/><path d="M-14,-1 q3,-3 6,0 q-3,2 -6,4 z" fill="#c0462c" fill-opacity="0.8"/><path d="M14,-1 q-3,-3 -6,0 q3,2 6,4 z" fill="#c0462c" fill-opacity="0.8"/><rect x="-13.4" y="6.6" width="4.2" height="1.6" fill="#8c7a28"/><rect x="9.2" y="6.6" width="4.2" height="1.6" fill="#8c7a28"/><circle cx="-11.3" cy="-5.4" r="1.3" fill="#c9772a"/><circle cx="11.3" cy="-5.4" r="1.3" fill="#c9772a"/><path d="M-7.4,-6.5 h14.8 v9.5 q0,7 -7.4,8.8 q-7.4,-1.8 -7.4,-8.8 z" fill="#c6342b"/><rect x="-7.4" y="-6.5" width="7.4" height="6.5" fill="#cf4a36"/><rect x="0" y="-6.5" width="7.4" height="6.5" fill="#d9b9b4"/><ellipse cx="0.6" cy="0.6" rx="2.4" ry="3" fill="#5a63a8"/><ellipse cx="0.6" cy="0.6" rx="1.3" ry="1.7" fill="#c8c8e0"/><path d="M-6.6,-7 q0,-5.4 6.6,-5.6 q6.6,0.2 6.6,5.6 z" fill="#c23a2a"/><rect x="-6.8" y="-8.2" width="13.6" height="1.6" fill="#c9952a"/><circle cx="0" cy="-13.2" r="1" fill="#c9952a"/></g>
<text class="lt" x="64.2" y="162.4" textLength="24" lengthAdjust="spacingAndGlyphs">GOBIERNO</text>
<text class="lt" x="64.2" y="167.5" textLength="24" lengthAdjust="spacingAndGlyphs">DE ESPAÑA</text>
<text class="lt2" x="104" y="162.9" textLength="34.5" lengthAdjust="spacingAndGlyphs">MINISTERIO</text>
<text class="lt2" x="104" y="169.6" textLength="33.5" lengthAdjust="spacingAndGlyphs">DE CIENCIA</text>
<text class="lt2" x="104" y="176.2" textLength="41.5" lengthAdjust="spacingAndGlyphs">E INNOVACIÓN</text>
</g>
<!-- legend -->
<g id="legend">
 <rect x="717" y="444.6" width="43.4" height="13.5" fill="#0a449c" stroke="#3e4a55" stroke-width="1"/>
 <rect x="717" y="458.1" width="43.4" height="13.4" fill="#0780c8" stroke="#3e4a55" stroke-width="1"/>
 <rect x="717" y="471.5" width="43.4" height="13.4" fill="#2baadd" stroke="#3e4a55" stroke-width="1"/>
 <rect x="717" y="484.9" width="43.4" height="13.4" fill="#b3d8eb" stroke="#3e4a55" stroke-width="1"/>
 <rect x="717" y="498.3" width="43.4" height="13.5" fill="#f0f1fb" stroke="#3e4a55" stroke-width="1"/>
</g>
</svg>
<div class="lg" style="top:444.0px">15 - 20</div>
<div class="lg" style="top:457.4px">10 - 15</div>
<div class="lg" style="top:470.8px">5 - 10</div>
<div class="lg" style="top:484.2px">3 - 5</div>
<div class="lg" style="top:497.6px">0 - 3</div>
<div id="lbar"></div><div id="tbar"></div>
</body></html>
